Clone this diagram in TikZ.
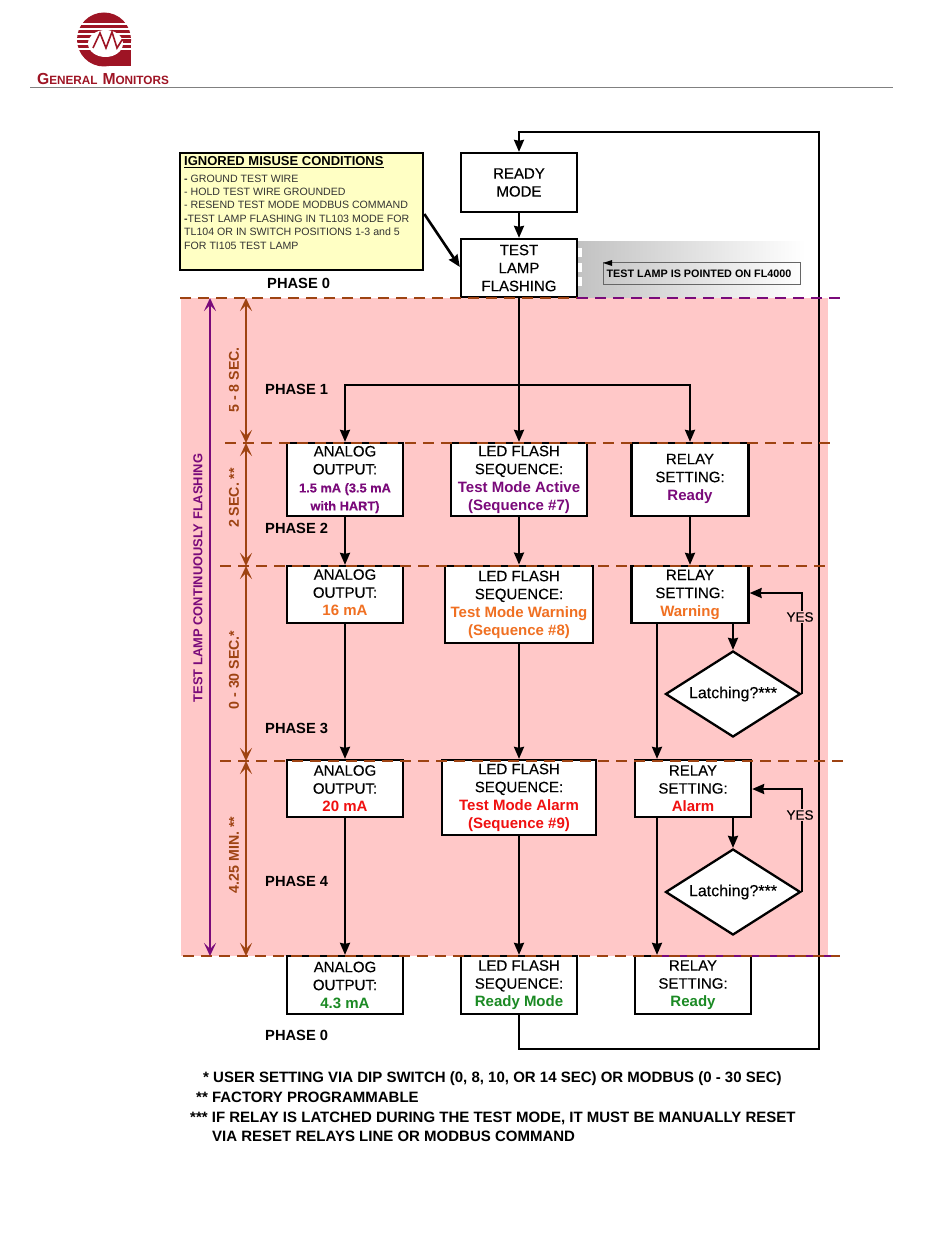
\documentclass[tikz,border=0pt]{standalone}
\usepackage{fontspec}
\setmainfont{Liberation Sans}
\newfontfamily\boxfont[FakeBold=0.25]{Liberation Sans}
\usetikzlibrary{arrows.meta}
\usetikzlibrary{shapes.geometric}
\definecolor{pinkzone}{HTML}{FFC8C8}
\definecolor{notepaper}{HTML}{FFFFC4}
\definecolor{timebrown}{HTML}{9E4312}
\definecolor{lampviolet}{HTML}{7A0A7A}
\definecolor{warnorange}{HTML}{F07022}
\definecolor{alarmred}{HTML}{F01010}
\definecolor{readygreen}{HTML}{1B8A24}
\definecolor{logored}{HTML}{9E1424}
\newcommand{\smallviolet}[1]{{\bfseries\fontsize{12.8}{18}\selectfont\textcolor{lampviolet}{#1}}}
\newcommand{\flowvalue}[2]{\textcolor{#1}{\normalfont\bfseries\fontsize{15}{18}\selectfont #2}}
\newcommand{\textlift}[1]{\rule[-#1]{0pt}{#1}}
\tikzset{
        flowbox/.style={draw=black,line width=2.3pt,fill=white,align=center,inner sep=0pt,
                font=\boxfont\fontsize{15}{18}\selectfont},
        latchbox/.style={diamond,draw=black,line width=2.3pt,fill=white,aspect=1.57,inner sep=0pt,
                minimum width=135pt,minimum height=86pt,font=\boxfont\fontsize{16}{18}\selectfont},
        flowline/.style={black,line width=2.2pt,-{Stealth[length=12pt,width=10pt,inset=1pt]}},
        timeline/.style={timebrown,line width=2.2pt,{Stealth[length=13pt,width=12pt,inset=6pt]}-{Stealth[length=13pt,width=12pt,inset=6pt]}},
        phasedash/.style={timebrown,line width=1.6pt,dash pattern=on 11pt off 7pt},
        phaselabel/.style={anchor=west,inner sep=0pt,font=\bfseries\fontsize{14.7}{16}\selectfont},
        timelabel/.style={rotate=90,inner sep=0pt,text=timebrown,font=\bfseries\fontsize{14.2}{15}\selectfont},
        footnotelabel/.style={anchor=west,inner sep=0pt,font=\bfseries\fontsize{15}{17}\selectfont},
}
\begin{document}
\begin{tikzpicture}[x=1pt,y=-1pt]
        \useasboundingbox (0,0) rectangle (950,1260);
        % logo
        \fill[logored] (104,39.5) circle (27);
        \fill[logored] (110,40) rectangle (131,66);
        \foreach \stripe in {24,29,34,39,44,49}
                \draw[white,line width=1.4pt] (74,\stripe) -- (133,\stripe);
        \fill[white] (105.5,43.5) ellipse (17.5 and 13.5);
        \draw[logored,line width=1.6pt] (93,48) -- (100,33) -- (106,48) -- (112,32) -- (117,48) -- (122,40) -- (131,40);
        \node[inner sep=0pt,text=logored,xscale=0.98] (logotext) at (103,79)
                {\bfseries\fontsize{16}{16}\selectfont G\fontsize{12}{16}\selectfont ENERAL\hspace{5pt}\fontsize{16}{16}\selectfont M\fontsize{12}{16}\selectfont ONITORS};
        \draw[gray,line width=1pt] (30,88) -- (893,88);
        % zones
        \fill[pinkzone] (181,298) rectangle (828,956);
        \shade[left color=black!24,right color=white] (577,241) rectangle (805,297);
        \foreach \notch in {248,263,277} {
                \fill[black!30] (572,\notch) rectangle (577,\notch+9);
                \fill[white] (577,\notch) rectangle (582,\notch+9);
        }
        % boxes
        \node[flowbox,minimum width=116pt,minimum height=59pt] (ready) at (519,182.5) {READY\\MODE};
        \node[flowbox,minimum width=116pt,minimum height=58pt] (lamp) at (519,268) {TEST\\LAMP\\FLASHING};
        \node[draw=black,line width=2.6pt,fill=notepaper,minimum width=243pt,minimum height=117pt,inner sep=0pt] (misuse) at (301.5,211.5) {};
        \node[anchor=north west,inner sep=0pt,align=left,text=black!80,font=\fontsize{10.6}{13.4}\selectfont] (misusetext) at (184,156)
                {{\bfseries\color{black}\fontsize{13}{15}\selectfont\underline{IGNORED MISUSE CONDITIONS}}\\[3.5pt]
                 {\bfseries -} GROUND TEST WIRE\\
                 - HOLD TEST WIRE GROUNDED\\
                 - RESEND TEST MODE MODBUS COMMAND\\
                 {\bfseries -}TEST LAMP FLASHING IN TL103 MODE FOR\\
                 TL104 OR IN SWITCH POSITIONS 1-3 and 5\\
                 FOR TI105 TEST LAMP};
        \node[draw=black!60,line width=0.6pt,fill=none,minimum width=197pt,minimum height=22pt,inner sep=0pt,
                font=\bfseries\fontsize{10.8}{12}\selectfont] (pointed) at (701.5,273.5) {TEST LAMP IS POINTED ON FL4000\hspace*{5pt}};
        \node[flowbox,minimum width=116pt,minimum height=73pt] (anaone) at (345,479.5)
                {ANALOG\\OUTPUT:\\\smallviolet{1.5 mA (3.5 mA}\\\smallviolet{with HART)}};
        \node[flowbox,minimum width=136pt,minimum height=73pt] (ledone) at (519,479.5)
                {LED FLASH\\SEQUENCE:\\\flowvalue{lampviolet}{Test Mode Active}\\\flowvalue{lampviolet}{(Sequence \#7)}};
        \node[flowbox,minimum width=117pt,minimum height=73pt] (relone) at (690,479.5)
                {RELAY\\SETTING:\\\flowvalue{lampviolet}{Ready}\textlift{5pt}};
        \node[flowbox,minimum width=116pt,minimum height=57pt] (anatwo) at (345,594.5)
                {ANALOG\\OUTPUT:\\\flowvalue{warnorange}{16 mA}\textlift{4pt}};
        \node[flowbox,minimum width=148pt,minimum height=77pt,line width=2.8pt] (ledtwo) at (519,604.5)
                {LED FLASH\\SEQUENCE:\\\flowvalue{warnorange}{Test Mode Warning}\\\flowvalue{warnorange}{(Sequence \#8)}};
        \node[flowbox,minimum width=117pt,minimum height=57pt] (reltwo) at (690,594.5)
                {RELAY\\SETTING:\\\flowvalue{warnorange}{Warning}};
        \node[latchbox] (latchone) at (733,694) {Latching?***};
        \node[flowbox,minimum width=116pt,minimum height=57pt] (anathree) at (345,788.5)
                {ANALOG\\OUTPUT:\\\flowvalue{alarmred}{20 mA}};
        \node[flowbox,minimum width=154pt,minimum height=75pt] (ledthree) at (519,797.5)
                {LED FLASH\\SEQUENCE:\\\flowvalue{alarmred}{Test Mode Alarm}\\\flowvalue{alarmred}{(Sequence \#9)}};
        \node[flowbox,minimum width=116pt,minimum height=57pt] (relthree) at (693,788.5)
                {RELAY\\SETTING:\\\flowvalue{alarmred}{Alarm}};
        \node[latchbox] (latchtwo) at (733,892) {Latching?***};
        \node[flowbox,minimum width=116pt,minimum height=58pt] (anafour) at (345,985)
                {ANALOG\\OUTPUT:\\\flowvalue{readygreen}{4.3 mA}};
        \node[flowbox,minimum width=116pt,minimum height=58pt] (ledfour) at (519,985)
                {LED FLASH\\SEQUENCE:\\\flowvalue{readygreen}{Ready Mode}};
        \node[flowbox,minimum width=116pt,minimum height=58pt] (relfour) at (693,985)
                {RELAY\\SETTING:\\\flowvalue{readygreen}{Ready}};
        % named bends
        \coordinate (split) at (519,385);
        \coordinate (relaydown) at (657,566);
        \coordinate (yesone) at (800,593);
        \coordinate (yestwo) at (800,789);
        \coordinate (backlow) at (819,1049);
        \coordinate (backhigh) at (819,132);
        % flow
        \draw[flowline] (ready) -- (lamp);
        \draw[flowline,line width=2.6pt] (misuse.east |- 0,214) -- (lamp.west |- 0,267);
        \draw[flowline] (lamp) -- (ledone);
        \draw[flowline] (split) -| (anaone.north);
        \draw[flowline] (split) -| (relone.north);
        \draw[flowline] (anaone) -- (anatwo);
        \draw[flowline] (ledone) -- (ledtwo);
        \draw[flowline] (relone) -- (reltwo);
        \draw[flowline] (anatwo) -- (anathree);
        \draw[flowline] (ledtwo) -- (ledthree);
        \draw[flowline] (anathree) -- (anafour);
        \draw[flowline] (ledthree) -- (ledfour);
        \draw[flowline] (relaydown |- reltwo.south) -- (relaydown |- relthree.north);
        \draw[flowline] (relaydown |- relthree.south) -- (relaydown |- relfour.north);
        \draw[flowline] (latchone.north |- reltwo.south) -- (latchone.north);
        \draw[flowline] (latchtwo.north |- relthree.south) -- (latchtwo.north);
        \draw[flowline] (latchone.east) |- (reltwo.east |- yesone);
        \draw[flowline] (latchtwo.east) |- (relthree.east |- yestwo);
        \draw[flowline] (ledfour.south) |- (backlow) -- (backhigh) -| (ready.north);
        \node[fill=pinkzone,inner sep=1.5pt,font=\boxfont\fontsize{13.5}{14}\selectfont] (yeslabelone) at (800,617) {YES};
        \node[fill=pinkzone,inner sep=1.5pt,font=\boxfont\fontsize{13.5}{14}\selectfont] (yeslabeltwo) at (800,815) {YES};
        % phase lines
        \draw[phasedash] (180,298) -- (577,298);
        \draw[lampviolet,line width=1.6pt,dash pattern=on 11pt off 7pt] (577,298) -- (840,298);
        \draw[phasedash] (225,443) -- (830,443);
        \draw[phasedash] (220,566) -- (830,566);
        \draw[phasedash] (220,761) -- (843,761);
        \draw[lampviolet,line width=1.6pt] (655,956) -- (840,956);
        \draw[phasedash] (183,956) -- (840,956);
        % timing arrows
        \coordinate (timetop) at (246,298);
        \coordinate (timeone) at (246,443);
        \coordinate (timetwo) at (246,566);
        \coordinate (timethree) at (246,761);
        \coordinate (timefour) at (246,956);
        \draw[timeline] (timetop) -- (timeone);
        \draw[timeline] (timeone) -- (timetwo);
        \draw[timeline] (timetwo) -- (timethree);
        \draw[timeline] (timethree) -- (timefour);
        \coordinate (lamptop) at (210,298);
        \coordinate (lampend) at (210,956);
        \draw[lampviolet,line width=2.2pt,{Stealth[length=13pt,width=12pt,inset=6pt]}-{Stealth[length=13pt,width=12pt,inset=6pt]}] (lamptop) -- (lampend);
        \node[timelabel] (timetexta) at (234,380) {5 - 8 SEC.};
        \node[timelabel] (timetextb) at (234,498) {2 SEC. **};
        \node[timelabel] (timetextc) at (234,670) {0 - 30 SEC.*};
        \node[timelabel] (timetextd) at (234,855) {4.25 MIN. **};
        \node[timelabel,text=lampviolet,font=\bfseries\fontsize{12.9}{14}\selectfont] (lamptext) at (198,578) {TEST LAMP CONTINUOUSLY FLASHING};
        % phase names
        \node[phaselabel] (phasezero) at (267,283) {PHASE 0};
        \node[phaselabel] (phaseone) at (265,389) {PHASE 1};
        \node[phaselabel] (phasetwo) at (265,528) {PHASE 2};
        \node[phaselabel] (phasethree) at (265,728) {PHASE 3};
        \node[phaselabel] (phasefour) at (265,881) {PHASE 4};
        \node[phaselabel] (phaseend) at (265,1035) {PHASE 0};
        \fill[black] (603,263) -- (612,260) -- (612,266) -- cycle;
        % footnotes
        \node[footnotelabel] (noteone) at (203,1079) {* USER SETTING VIA DIP SWITCH (0, 8, 10, OR 14 SEC) OR MODBUS (0 - 30 SEC)};
        \node[footnotelabel] (notetwo) at (196,1097) {** FACTORY PROGRAMMABLE};
        \node[footnotelabel] (notethree) at (190,1118) {*** IF RELAY IS LATCHED DURING THE TEST MODE, IT MUST BE MANUALLY RESET};
        \node[footnotelabel] (notefour) at (212,1136) {VIA RESET RELAYS LINE OR MODBUS COMMAND};
\end{tikzpicture}
\end{document}
